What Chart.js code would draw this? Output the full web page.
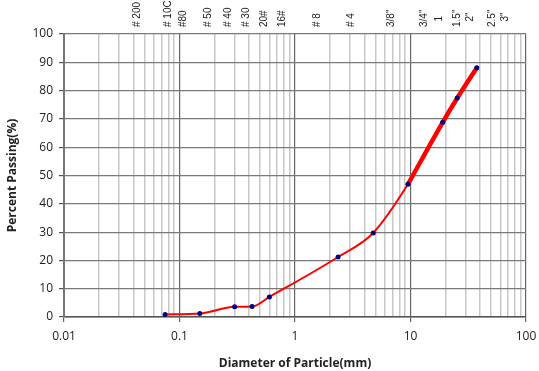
<!DOCTYPE html>
<html>
<head>
<meta charset="utf-8">
<script src="https://cdn.jsdelivr.net/npm/chart.js@4/dist/chart.umd.min.js"></script>
<style>
    html, body { margin: 0; padding: 0; background: #fff; }
    #gradChart { display: block; }
</style>
</head>
<body>
<canvas id="gradChart" width="539" height="371"></canvas>
<script>
// 입도 분포 데이터 (mm, % 통과)
const sieveSizes = [0.075, 0.15, 0.3, 0.425, 0.6, 2.36, 4.75, 9.5, 19, 25.4, 37.5];
const percentPassing = [0.9, 1.2, 3.6, 3.7, 7.1, 21.2, 29.7, 46.9, 68.8, 77.4, 88.1];

// 굵은 선 구간 (상단부)
const thickSizes = [9.5, 19, 25.4, 37.5];
const thickPassing = [46.9, 68.8, 77.4, 88.1];

// 상단 체 번호 라벨과 위치(mm)
const topLabels = ['# 200', '# 10C', '#80', '# 50', '# 40', '# 30', '20#', '16#', '# 8', '# 4', '3/8"', '3/4"', '  1', '1.5"', '  2"', '2.5"', '  3"'];
const topLabelSizes = [0.0429, 0.0794, 0.107, 0.1765, 0.263, 0.377, 0.54, 0.772, 1.55, 3.05, 6.78, 13.1, 17.65, 25.3, 32.7, 50.8, 65.8];

const yTicks = [0, 10, 20, 30, 40, 50, 60, 70, 80, 90, 100];

function isDecade(v) {
    const l = Math.log10(v);
    return Math.abs(l - Math.round(l)) < 1e-6;
}

// 상단 라벨 그리기 플러그인
const topLabelPlugin = {
    id: 'topLabels',
    afterDraw(chart) {
        const ctx = chart.ctx;
        const xs = chart.scales.x;
        ctx.save();
        ctx.fillStyle = '#222';
        ctx.font = '10px "Liberation Sans", Arial, sans-serif';
        ctx.textAlign = 'left';
        ctx.textBaseline = 'middle';
        topLabels.forEach((lbl, i) => {
            const px = xs.getPixelForValue(topLabelSizes[i]);
            ctx.save();
            ctx.translate(px, 27);
            ctx.rotate(-Math.PI / 2);
            ctx.fillText(lbl, 0, 0);
            ctx.restore();
        });
        ctx.restore();
    }
};

new Chart(document.getElementById('gradChart'), {
    type: 'line',
    data: {
        datasets: [
            {
                data: thickSizes.map((s, i) => ({ x: s, y: thickPassing[i] })),
                borderColor: '#ff0000',
                borderWidth: 4.5,
                pointRadius: 0,
                cubicInterpolationMode: 'monotone',
                order: 2
            },
            {
                data: sieveSizes.map((s, i) => ({ x: s, y: percentPassing[i] })),
                borderColor: '#ff0000',
                borderWidth: 2,
                pointRadius: 2.5,
                pointBackgroundColor: '#000080',
                pointBorderColor: '#000080',
                pointBorderWidth: 0,
                cubicInterpolationMode: 'monotone',
                order: 1
            }
        ]
    },
    options: {
        responsive: false,
        animation: false,
        layout: { padding: { left: 0, right: 13, top: 34, bottom: 0 } },
        plugins: {
            legend: { display: false },
            tooltip: { enabled: false }
        },
        scales: {
            x: {
                type: 'logarithmic',
                min: 0.01,
                max: 100,
                afterBuildTicks(scale) {
                    const t = [];
                    for (let e = -2; e <= 2; e++) {
                        for (let m = 1; m <= 9; m++) {
                            const v = m * Math.pow(10, e);
                            if (v <= 100.0001) t.push({ value: v });
                        }
                    }
                    scale.ticks = t;
                },
                afterFit(scale) {
                    scale.height = 54;
                    scale.paddingLeft = 0;
                    scale.paddingRight = 0;
                },
                ticks: {
                    autoSkip: false,
                    maxRotation: 0,
                    padding: 7,
                    color: '#222',
                    font: { size: 12, family: '"Open Sans", "Liberation Sans", sans-serif' },
                    callback: (v) => isDecade(v) ? String(Number(v.toPrecision(3))) : ''
                },
                grid: {
                    color: (c) => isDecade(c.tick.value) ? '#666' : '#c8c8c8',
                    lineWidth: (c) => isDecade(c.tick.value) ? 1.2 : 1.5,
                    tickLength: 5,
                    tickColor: (c) => isDecade(c.tick.value) ? '#666' : 'rgba(0,0,0,0)'
                },
                border: { color: '#555', width: 1.5 },
                title: {
                    display: true,
                    text: 'Diameter of Particle(mm)',
                    color: '#222',
                    font: { size: 12, weight: 'bold', family: '"Open Sans", "Liberation Sans", sans-serif' },
                    padding: { top: 3, bottom: 0 }
                }
            },
            y: {
                min: 0,
                max: 100,
                afterBuildTicks(scale) {
                    scale.ticks = yTicks.map(v => ({ value: v }));
                },
                afterFit(scale) {
                    scale.width = 64;
                    scale.paddingTop = 0;
                    scale.paddingBottom = 0;
                },
                ticks: {
                    padding: 6,
                    color: '#222',
                    font: { size: 12, family: '"Open Sans", "Liberation Sans", sans-serif' }
                },
                grid: {
                    color: '#7a7a7a',
                    lineWidth: 1.2,
                    tickLength: 5,
                    tickColor: '#555'
                },
                border: { color: '#777', width: 2 },
                title: {
                    display: true,
                    text: 'Percent Passing(%)',
                    color: '#222',
                    font: { size: 12, weight: 'bold', family: '"Open Sans", "Liberation Sans", sans-serif' },
                    padding: { top: 5, bottom: 0 }
                }
            }
        }
    },
    plugins: [topLabelPlugin]
});
</script>
</body>
</html>
